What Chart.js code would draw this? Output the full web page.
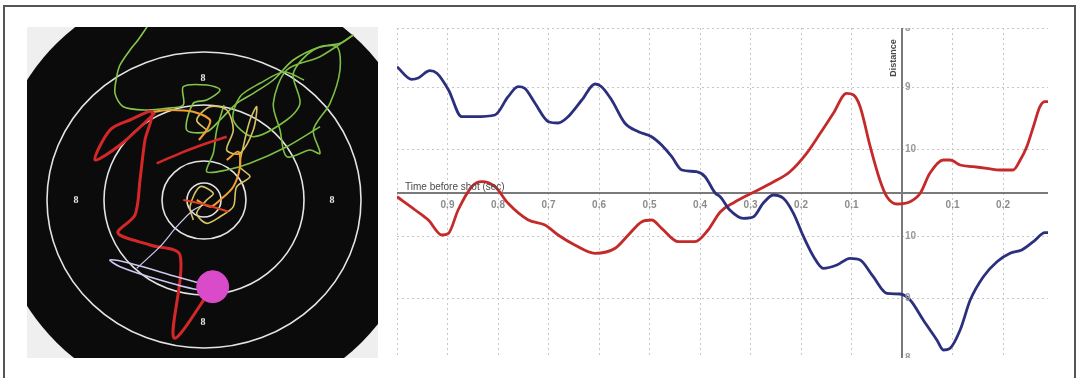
<!DOCTYPE html>
<html><head><meta charset="utf-8">
<script src="https://cdn.jsdelivr.net/npm/chart.js@4.4.1/dist/chart.umd.min.js"></script>
<style>
html,body{margin:0;padding:0;background:#fff;width:1079px;height:378px;overflow:hidden;}
#frame{position:absolute;left:3px;top:5px;width:1073px;height:400px;border:2px solid #555;border-bottom:none;box-sizing:border-box;}
#tgtWrap{position:absolute;left:27px;top:27px;width:351px;height:331px;}
#lineWrap{position:absolute;left:397px;top:28px;width:651px;height:330px;}
</style></head><body>
<div id="frame"></div>
<div id="tgtWrap"><canvas id="tgt"></canvas></div>
<div id="lineWrap"><canvas id="line"></canvas></div>
<script>
// ---------- Line chart data ----------
const timeBlue = [-1.0,-0.971,-0.958,-0.935,-0.921,-0.898,-0.872,-0.846,-0.806,-0.780,-0.760,-0.747,-0.727,-0.700,-0.681,-0.664,-0.634,-0.608,-0.595,-0.575,-0.549,-0.522,-0.496,-0.476,-0.456,-0.436,-0.407,-0.390,-0.370,-0.360,-0.341,-0.314,-0.294,-0.275,-0.255,-0.235,-0.215,-0.195,-0.175,-0.156,-0.129,-0.103,-0.083,-0.057,-0.030,-0.004,0.016,0.042,0.069,0.082,0.095,0.115,0.135,0.161,0.188,0.214,0.237,0.260,0.283,0.289];
const distBlue = [12.63,11.37,11.5,12.23,11.97,10.3,7.63,7.63,7.8,9.63,10.63,10.47,9.0,7.13,7.0,7.5,9.3,10.9,10.63,9.3,7.0,6.13,5.63,4.8,3.63,2.3,2.13,1.63,0,-0.37,-1.7,-2.53,-2.37,-1.03,-0.2,-0.53,-2.03,-4.37,-6.37,-7.53,-7.2,-6.53,-6.7,-8.37,-10.03,-10.1,-10.7,-12.7,-14.7,-15.7,-15.53,-13.7,-10.7,-8.37,-6.87,-6.03,-5.7,-4.87,-3.97,-3.97];
const timeRed = [-1.0,-0.964,-0.938,-0.911,-0.898,-0.879,-0.852,-0.832,-0.806,-0.780,-0.740,-0.707,-0.681,-0.648,-0.608,-0.568,-0.542,-0.515,-0.496,-0.476,-0.443,-0.410,-0.384,-0.360,-0.331,-0.301,-0.255,-0.222,-0.189,-0.162,-0.136,-0.110,-0.096,-0.083,-0.063,-0.044,-0.030,-0.010,0.016,0.036,0.055,0.082,0.095,0.115,0.141,0.168,0.194,0.220,0.234,0.247,0.260,0.273,0.283,0.289];
const distRed = [-0.37,-1.7,-2.7,-4.2,-4.03,-1.7,0.63,1.13,0.63,-1.03,-2.7,-3.2,-4.2,-5.2,-6.03,-5.53,-4.2,-2.87,-2.7,-3.53,-4.87,-4.87,-3.7,-1.9,-0.9,-0.1,1.1,2.13,3.97,5.97,7.97,9.97,9.8,8.63,4.63,1.3,-0.37,-1.1,-0.87,-0.03,1.97,3.3,3.3,2.8,2.63,2.47,2.3,2.3,3.3,4.63,6.63,8.63,9.13,9.13];
const xTickValues = [-1.0,-0.9,-0.8,-0.7,-0.6,-0.5,-0.4,-0.3,-0.2,-0.1,0,0.1,0.2];
const xTickLabels = ['','0.9','0.8','0.7','0.6','0.5','0.4','0.3','0.2','0.1','','0.1','0.2'];
const yTickValues = [-16.5,-10.55,-4.35,4.35,10.55,16.5];
const yTickLabels = ['8','9','10','10','9','8'];
const xRange = [-1.0, 0.289];
const yRange = [-16.5, 16.5];

// ---------- Target data (units relative to target centre) ----------
const ringRx = [157,100,42,17];
const ringRy = [148,95,39,17];
const ringLabelPos = [[-128,0],[128,0],[-1,122],[-1,-122]];
const ringLabelText = ['8','8','8','8'];
const faceCentre = [5,7];
const faceRadii = [215,212];
const greenA = [[-55.7,175],[-66,160],[-74,150],[-84,135],[-87.3,123.3],[-89,106.7],[-80.7,93.3],[-57.3,90],[-37.3,91.7],[-20.7,95],[-20.7,113.3],[2.7,115],[16,110],[2.7,100],[-10.7,96.7],[-17.3,70],[2.7,68.3],[16,80],[32.7,96.7],[49.3,106.7],[69.3,120],[89.3,140],[116,153.3],[136,156.7],[149.3,165]];
const greenB = [[149.3,165],[116,143.3],[82.7,130],[69.3,96.7],[76,70],[82.7,43.3],[106,50],[116,46.7],[109.3,70],[126,96.7],[136,130],[132.7,153.3],[109.3,150],[89.3,126.7],[96,96.7],[82.7,80],[49.3,63.3],[29.3,80],[36,103.3],[56,116.7],[80,128],[100,120]];
const greenC = [[116,73.3],[82.7,53.3],[46,36.7],[22.7,30],[2.7,28.3],[9.3,46.7],[12.7,70],[20,95]];
const yellowA = [[2.7,70],[-7.3,80],[6,93.3],[22.7,90],[29.3,70],[22.7,50],[36,46.7],[49.3,70],[52.7,93.3],[46,80],[39.3,53.3],[36,33.3],[46,23.3],[32.7,13.3],[29.3,-6.7],[16,-16.7],[2.7,-23.3],[-7.3,-13.3],[2.7,0],[9.3,6.7],[-4,13.3],[-14,-6.7],[-10.7,-20]];
const orangeA = [[-50.7,88.3],[-34,90],[-10.7,88.3],[6,80],[2.7,70],[-5,60]];
const orangeB = [[22.7,40],[34.3,48.3],[36,33.3],[29.3,13.3],[16,0],[6,-6.7],[-7.3,0]];
const redA = [[8,-88],[-30,-138],[-24,-55],[-54,-45],[-86,-33],[-69,-15],[-64,20],[-59,60],[-52,88],[-74,80],[-94,70],[-109,40],[-84,55],[-49,87]];
const redB = [[-47.3,36.7],[-24,46.7],[2.7,56.7],[22.7,63.3]];
const redC = [[-20.7,0],[2.7,-5],[24.3,-11.7]];
const lavenderA = [[8.7,-86.7],[-27.3,-76.7],[-74,-63.3],[-94,-60],[-84,-66.7],[-44,-80],[-4,-90],[8.7,-86.7]];
const lavenderB = [[-67.3,-68.3],[-44,-46.7],[-27.3,-26.7],[-10.7,-10],[-0.7,-5]];
const shotPoint = [[8.7,-86.7]];
const tgtXRange = [-177,174];
const tgtYRange = [-158,173];

// ---------- Target chart ----------
const toPts = arr => arr.map(([x,y]) => ({x, y}));
const trace = (arr, color, w) => ({data: toPts(arr), showLine: true, borderColor: color, borderWidth: w, pointRadius: 0, tension: 0.3, fill: false});

const targetPlugin = {
  id: 'targetFace',
  beforeDatasetsDraw(chart) {
    const {ctx, chartArea: a, scales: {x, y}} = chart;
    const px = v => x.getPixelForValue(v), py = v => y.getPixelForValue(v);
    const sx = r => Math.abs(px(r) - px(0)), sy = r => Math.abs(py(r) - py(0));
    ctx.save();
    ctx.fillStyle = '#efefef';
    ctx.fillRect(a.left, a.top, a.right - a.left, a.bottom - a.top);
    ctx.beginPath(); ctx.rect(a.left, a.top, a.right - a.left, a.bottom - a.top); ctx.clip();
    ctx.fillStyle = '#0b0b0b';
    ctx.beginPath();
    ctx.ellipse(px(faceCentre[0]), py(faceCentre[1]), sx(faceRadii[0]), sy(faceRadii[1]), 0, 0, Math.PI * 2);
    ctx.fill();
    ctx.strokeStyle = '#e4e4e4'; ctx.lineWidth = 1.6;
    ringRx.forEach((rx, i) => {
      ctx.beginPath();
      ctx.ellipse(px(0), py(0), sx(rx), sy(ringRy[i]), 0, 0, Math.PI * 2);
      ctx.stroke();
    });
    ctx.fillStyle = '#e8e8e8'; ctx.font = 'bold 10px "Liberation Serif", "Times New Roman", serif';
    ctx.textAlign = 'center'; ctx.textBaseline = 'middle';
    ringLabelPos.forEach(([lx, ly], i) => ctx.fillText(ringLabelText[i], px(lx), py(ly)));
    ctx.restore();
  }
};

new Chart(document.getElementById('tgt'), {
  type: 'scatter',
  data: { datasets: [
    {data: toPts(shotPoint), pointRadius: 16, pointBackgroundColor: '#d94bc9', pointBorderColor: '#d94bc9', showLine: false},
    trace(lavenderA, '#cdc8f0', 1.6),
    trace(lavenderB, '#cdc8f0', 1.2),
    trace(redA, '#d42828', 3),
    trace(redB, '#d42828', 2.5),
    trace(redC, '#e04020', 2.2),
    trace(orangeA, '#f0a030', 2.2),
    trace(orangeB, '#f0a030', 2),
    trace(yellowA, '#d6c464', 1.6),
    trace(greenC, '#7cbf44', 1.6),
    trace(greenB, '#7cbf44', 1.6),
    trace(greenA, '#86c64a', 1.6)
  ]},
  options: {
    responsive: true, maintainAspectRatio: false, animation: false, devicePixelRatio: 1,
    layout: {padding: 0, autoPadding: false},
    plugins: {legend: {display: false}, tooltip: {enabled: false}},
    scales: {
      x: {type: 'linear', display: false, min: tgtXRange[0], max: tgtXRange[1]},
      y: {type: 'linear', display: false, min: tgtYRange[0], max: tgtYRange[1]}
    }
  },
  plugins: [targetPlugin]
});

// ---------- Line chart ----------
const textPlugin = {
  id: 'axisTexts',
  afterDraw(chart) {
    const {ctx, chartArea: a, scales: {x, y}} = chart;
    const x0 = x.getPixelForValue(0), y0 = y.getPixelForValue(0);
    ctx.save();
    ctx.fillStyle = '#9a9a9a';
    ctx.font = 'bold 10px "Liberation Sans", Arial, sans-serif';
    ctx.textAlign = 'left'; ctx.textBaseline = 'middle';
    yTickValues.forEach((v, i) => ctx.fillText(yTickLabels[i], x0 + 3, y.getPixelForValue(v)));
    ctx.fillStyle = '#4a4a4a';
    ctx.font = '10px "Liberation Sans", Arial, sans-serif';
    ctx.textBaseline = 'bottom';
    ctx.fillText('Time before shot (sec)', a.left + 8, y0 - 1);
    ctx.translate(x0 - 9, a.top + 30);
    ctx.rotate(-Math.PI / 2);
    ctx.textAlign = 'center'; ctx.textBaseline = 'middle';
    ctx.font = 'bold 9px "Liberation Sans", Arial, sans-serif';
    ctx.fillText('Distance', 0, 0);
    ctx.restore();
  }
};

new Chart(document.getElementById('line'), {
  type: 'line',
  data: { datasets: [
    {data: timeBlue.map((t, i) => ({x: t, y: distBlue[i]})), borderColor: '#2c2f7e', borderWidth: 2.8, pointRadius: 0, cubicInterpolationMode: 'monotone', fill: false},
    {data: timeRed.map((t, i) => ({x: t, y: distRed[i]})), borderColor: '#c42a2a', borderWidth: 2.8, pointRadius: 0, cubicInterpolationMode: 'monotone', fill: false}
  ]},
  options: {
    responsive: true, maintainAspectRatio: false, animation: false, devicePixelRatio: 1,
    layout: {padding: 0, autoPadding: false},
    plugins: {legend: {display: false}, tooltip: {enabled: false}},
    scales: {
      x: {
        type: 'linear', min: xRange[0], max: xRange[1], position: {y: 0},
        afterBuildTicks: s => { s.ticks = xTickValues.map(v => ({value: v})); },
        ticks: {padding: 0, autoSkip: false, maxRotation: 0, color: '#8c8c8c', font: {family: '"Liberation Sans", Arial, sans-serif', size: 10, weight: 'bold'}, callback: (v, i) => xTickLabels[i]},
        grid: {color: '#c6c6c6', lineWidth: 1, drawTicks: true, tickLength: 6, tickColor: 'rgba(0,0,0,0)'},
        border: {display: true, color: '#7a7a7a', width: 2, dash: [2, 3]}
      },
      y: {
        type: 'linear', min: yRange[0], max: yRange[1], position: {x: 0},
        afterBuildTicks: s => { s.ticks = yTickValues.map(v => ({value: v})); },
        ticks: {display: false},
        grid: {color: '#c6c6c6', lineWidth: 1, drawTicks: false},
        border: {display: true, color: '#7a7a7a', width: 2, dash: [2, 3]}
      }
    }
  },
  plugins: [textPlugin]
});
</script>
</body></html>
